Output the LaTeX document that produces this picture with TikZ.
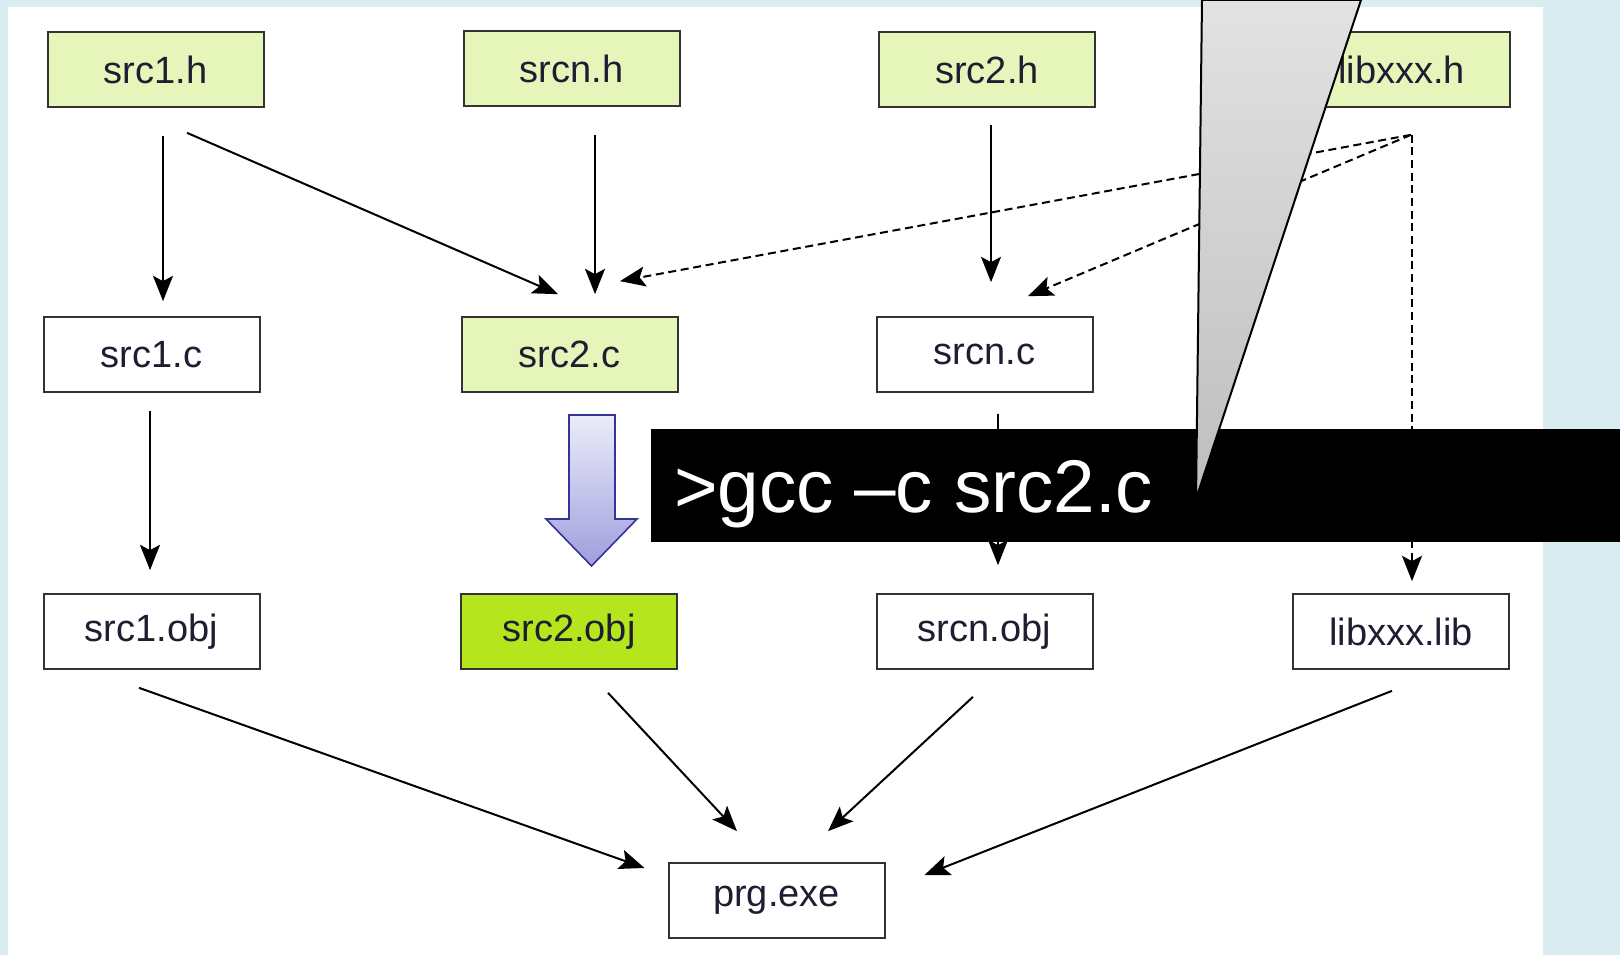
\documentclass[tikz,border=0pt]{standalone}
\usepackage{fontspec}
\setmainfont{Liberation Sans}
\usetikzlibrary{calc,arrows.meta}

\definecolor{slideblue}{RGB}{217,236,239}
\definecolor{headerfill}{RGB}{230,246,186}
\definecolor{objfill}{RGB}{181,230,29}
\definecolor{boxline}{RGB}{51,51,51}
\definecolor{labelink}{RGB}{30,30,50}

\tikzset{every picture/.style={line width=1.5pt}}
\tikzset{
	file/.style={draw=boxline, fill=white, minimum width=162pt, minimum height=56pt, inner sep=0pt, text=labelink, font=\fontsize{28.5}{34}\selectfont},
	header/.style={file, fill=headerfill},
	built/.style={file, fill=objfill},
	dep/.style={-{Stealth[length=19pt,width=15pt,inset=4pt]}, line width=1.5pt},
	libdep/.style={dep, dash pattern=on 6pt off 3.5pt}
}

\begin{document}
\begin{tikzpicture}[x=0.75pt,y=0.75pt,yscale=-1,xscale=1]
	\useasboundingbox (0,0) rectangle (1620,955);

	%Background
	\fill [slideblue] (0,0) rectangle (1620,955);
	\fill [white] (8,7) rectangle (1543,955);

	% headers
	\node [header] (s1h) at (155.5,69.5) {src1.h};
	\node [header] (snh) at (571.5,68.5) {srcn.h};
	\node [header] (s2h) at (987,69.5) {src2.h};
	\node [header] (libh) at (1401.5,69.5) {libxxx.h};
	% sources
	\node [file] (s1c) at (151.5,354.5) {src1.c};
	\node [header] (s2c) at (569.5,354.5) {src2.c};
	\node [file] (snc) at (984.5,354.5) {srcn.c};
	% objects
	\node [file] (s1o) at (151.5,631.5) {src1.obj};
	\node [built] (s2o) at (569,631.5) {src2.obj};
	\node [file] (sno) at (984.5,631.5) {srcn.obj};
	\node [file] (libo) at (1401,631.5) {libxxx.lib};
	% executable
	\node [file] (exe) at (776.5,900.5) {prg.exe};

	%Straight Lines
	\draw [dep] ($(s1h.south)+(7.5,28)$) -- ($(s1c.north)+(11.5,-15)$);
	\draw [dep] ($(s1h.south)+(31.5,25)$) -- ($(s2c.north)+(-11.5,-22)$);
	\draw [dep] ($(snh.south)+(23.5,28)$) -- ($(s2c.north)+(25.5,-22)$);
	\draw [dep] ($(s2h.south)+(4,17)$) -- ($(snc.north)+(6.5,-34)$);
	\draw [libdep] ($(libh.south)+(9.5,27)$) -- ($(s2c.north)+(50.5,-35)$);
	\draw [libdep] ($(libh.south)+(9.5,27)$) -- ($(snc.north)+(43.5,-20)$);
	\draw [libdep] ($(libh.south)+(10.5,27)$) -- ($(libo.north)+(11,-12)$);

	\draw [dep] ($(s1c.south)+(-1.5,18)$) -- ($(s1o.north)+(-1.5,-23)$);
	\draw [dep] ($(s2c.south)+(22.5,21)$) -- ($(s2o.north)+(23,-28)$);
	\draw [dep] ($(snc.south)+(13.5,21)$) -- ($(sno.north)+(13.5,-28)$);

	\draw [dep] ($(s1o.south)+(-12.5,18)$) -- ($(exe.west)+(-23,-32.5)$);
	\draw [dep] ($(s2o.south)+(39,23)$) -- ($(exe.north)+(-39.5,-31)$);
	\draw [dep] ($(sno.south)+(-11.5,27)$) -- ($(exe.north)+(51.5,-31)$);
	\draw [dep] ($(libo.south)+(-9,21)$) -- ($(exe.east)+(39,-25.5)$);

	%Down Arrow
	\draw [draw={rgb, 255:red, 52; green, 52; blue, 150 }, line width=1.2pt, top color={rgb, 255:red, 236; green, 236; blue, 250 }, bottom color={rgb, 255:red, 158; green, 158; blue, 222 }] (569,415) -- (615,415) -- (615,519) -- (637,519) -- (591.5,566) -- (546,519) -- (569,519) -- cycle ;

	%Command bar
	\node [fill=black, anchor=north west, minimum width=727.5pt, minimum height=84.75pt, inner sep=0pt] (bar) at (650,428) {};
	\node [anchor=base west, inner sep=0pt, text=white, font=\fontsize{56}{64}\selectfont] (cmd) at (673,512) {>gcc –c src2.c};

	%Callout tail
	\draw [top color={rgb, 255:red, 226; green, 226; blue, 226 }, bottom color={rgb, 255:red, 190; green, 190; blue, 190 }] (1202,0) -- (1361,0) -- (1196,499) -- cycle ;

\end{tikzpicture}
\end{document}
